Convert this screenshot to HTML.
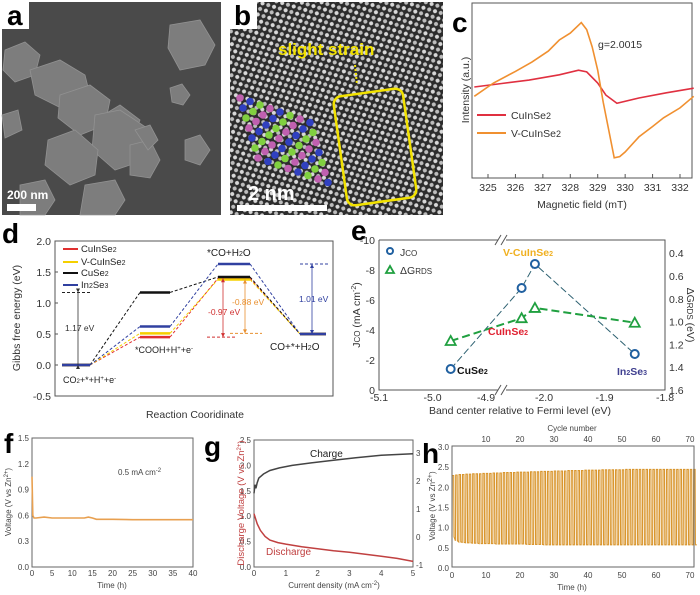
<!DOCTYPE html>
<html><head><meta charset="utf-8"><style>
html,body{margin:0;padding:0;background:#fff;width:700px;height:595px;overflow:hidden}
svg{display:block;font-family:"Liberation Sans",Arial,sans-serif}
.t{font-size:10.5px;fill:#333}
.s{font-size:8px;fill:#444}
.lab{font-size:28px;font-weight:bold;fill:#000}
</style></head><body>
<svg id="fig" width="700" height="595" viewBox="0 0 700 595">
<defs>
<pattern id="lat" width="9" height="8" patternUnits="userSpaceOnUse" patternTransform="rotate(-25)">
<rect width="9" height="8" fill="#2c2c2c"/>
<circle cx="2.5" cy="2" r="2" fill="#d8d8d8"/><circle cx="7" cy="6" r="2" fill="#bdbdbd"/>
</pattern>
</defs>
<!-- panel a -->
<g>
<rect x="2" y="2" width="219" height="213" fill="#4a4a4a"/>
<g fill="#838383" stroke="#9a9a9a" stroke-width="0.8" opacity="0.9">
<polygon points="170,25 200,20 215,45 205,65 180,70 168,48"/>
<polygon points="5,50 25,42 40,55 35,75 15,82 3,70"/>
<polygon points="30,70 60,60 85,75 90,95 65,110 35,95"/>
<polygon points="60,95 90,85 110,100 105,125 80,135 58,118"/>
<polygon points="170,88 182,84 190,95 183,105 172,102"/>
<polygon points="95,120 120,105 140,120 130,145 105,150"/>
<polygon points="95,115 120,110 150,130 145,160 115,170 92,150"/>
<polygon points="48,140 75,130 98,150 95,175 70,185 45,165"/>
<polygon points="130,145 150,140 160,160 150,178 130,175"/>
<polygon points="135,130 150,125 158,140 148,150"/>
<polygon points="185,140 200,135 210,150 200,165 185,160"/>
<polygon points="20,185 45,180 55,200 45,215 20,215"/>
<polygon points="85,185 115,180 125,200 115,215 80,215"/>
<polygon points="2,115 18,110 22,130 5,138"/>
</g>
<rect x="2" y="2" width="27" height="27" fill="#fff"/>
<text x="7" y="25" class="lab">a</text>
<text x="7" y="199" fill="#fff" font-size="12" font-weight="bold">200 nm</text>
<rect x="7" y="204" width="29" height="7" fill="#fff"/>
</g>
<!-- panel b -->
<g>
<rect x="230" y="2" width="213" height="213" fill="url(#lat)"/>
<rect x="230" y="2" width="27" height="27" fill="#fff"/>
<text x="234" y="25" class="lab">b</text>
<g id="atoms"></g>
<text x="278" y="55" fill="#f2e200" font-size="17" font-weight="bold">slight strain</text>
<line x1="355" y1="65" x2="357" y2="85" stroke="#f2e200" stroke-width="2" stroke-dasharray="2,2"/>
<rect x="340" y="92" width="70" height="110" rx="8" fill="none" stroke="#f2e200" stroke-width="2.5" transform="rotate(-8 375 147)"/>
<text x="248" y="200" fill="#fff" font-size="20" font-weight="bold">2 nm</text>
<rect x="237" y="205" width="90" height="6" fill="#fff"/>
</g>
<!-- panel c -->
<g>
<text x="452" y="32" class="lab" font-size="24">c</text>
<rect x="472" y="3" width="220" height="175" fill="none" stroke="#555"/>
<g id="cTicks"></g><g id="cLines"></g>
<text transform="translate(469,90) rotate(-90)" text-anchor="middle" class="t" font-size="11">Intensity (a.u.)</text>
<text x="582" y="208" text-anchor="middle" class="t" font-size="12">Magnetic field (mT)</text>
<text x="598" y="48" class="t" font-size="12">g=2.0015</text>
<line x1="477" y1="115" x2="506" y2="115" stroke="#e03040" stroke-width="2"/>
<text x="511" y="119" class="t" font-size="12">CuInSe<tspan font-size="9">2</tspan></text>
<line x1="477" y1="133" x2="506" y2="133" stroke="#f09030" stroke-width="2"/>
<text x="511" y="137" class="t" font-size="12">V-CuInSe<tspan font-size="9">2</tspan></text>
</g>
<!-- panel d -->
<g>
<text x="2" y="243" class="lab" font-size="26">d</text>
<rect x="55" y="241" width="278" height="155" fill="none" stroke="#555"/>
<g id="dTicks"></g><g id="dLines"></g>
<text transform="translate(20,318) rotate(-90)" text-anchor="middle" class="t" font-size="12.5">Gibbs free energy (eV)</text>
<text x="195" y="418" text-anchor="middle" class="t" font-size="13">Reaction Cooridinate</text>
<g font-size="9.5" fill="#222">
<line x1="63" y1="249" x2="78" y2="249" stroke="#e03030" stroke-width="2"/><text x="81" y="252">CuInSe<tspan font-size="7">2</tspan></text>
<line x1="63" y1="262" x2="78" y2="262" stroke="#f5d000" stroke-width="2"/><text x="81" y="265">V-CuInSe<tspan font-size="7">2</tspan></text>
<line x1="63" y1="273" x2="78" y2="273" stroke="#111" stroke-width="2"/><text x="81" y="276">CuSe<tspan font-size="7">2</tspan></text>
<line x1="63" y1="285" x2="78" y2="285" stroke="#3040a0" stroke-width="2"/><text x="81" y="288">In<tspan font-size="7">2</tspan>Se<tspan font-size="7">3</tspan></text>
</g>
<g font-size="9" fill="#222">
<text x="63" y="383">CO<tspan font-size="6">2</tspan>+*+H<tspan font-size="6" dy="-3">+</tspan><tspan dy="3">+e</tspan><tspan font-size="6" dy="-3">-</tspan></text>
<text x="135" y="353">*COOH+H<tspan font-size="6" dy="-3">+</tspan><tspan dy="3">+e</tspan><tspan font-size="6" dy="-3">-</tspan></text>
<text x="207" y="256" font-size="10">*CO+H<tspan font-size="7">2</tspan>O</text>
<text x="270" y="350" font-size="10">CO+*+H<tspan font-size="7">2</tspan>O</text>
<text x="65" y="331" font-size="8.5" fill="#333">1.17 eV</text>
<text x="208" y="315" font-size="8.5" fill="#d03030">-0.97 eV</text>
<text x="232" y="305" font-size="8.5" fill="#e89030">-0.88 eV</text>
<text x="299" y="302" font-size="8.5" fill="#3040a0">1.01 eV</text>
</g>
</g>
<!-- panel e -->
<g>
<text x="351" y="240" class="lab" font-size="26">e</text>
<polyline points="379,240 498,240" fill="none" stroke="#555"/><polyline points="506,240 665,240 665,390 506,390" fill="none" stroke="#555"/><polyline points="498,390 379,390 379,240" fill="none" stroke="#555"/>
<g stroke="#555"><line x1="495" y1="245" x2="501" y2="235"/><line x1="501" y1="245" x2="507" y2="235"/><line x1="495" y1="395" x2="501" y2="385"/><line x1="501" y1="395" x2="507" y2="385"/></g>
<g id="eTicks"></g><g id="eLines"></g>
<text transform="translate(360,315) rotate(-90)" text-anchor="middle" class="t" font-size="11.5">J<tspan font-size="8">CO</tspan> (mA cm<tspan font-size="7" dy="-4">-2</tspan><tspan dy="4">)</tspan></text>
<text transform="translate(687,315) rotate(90)" text-anchor="middle" class="t" font-size="11.5">ΔG<tspan font-size="8">RDS</tspan> (eV)</text>
<text x="520" y="414" text-anchor="middle" class="t" font-size="12">Band center relative to Fermi level (eV)</text>
<circle cx="390" cy="251" r="3" fill="none" stroke="#2060a0" stroke-width="2"/><text x="400" y="256" class="t" font-size="12">J<tspan font-size="8">CO</tspan></text>
<polygon points="386,273 390,266 394,273" fill="none" stroke="#20a040" stroke-width="1.8"/><text x="400" y="274" class="t" font-size="12">ΔG<tspan font-size="8">RDS</tspan></text>
<text x="503" y="256" font-size="10.5" font-weight="bold" fill="#f0b020">V-CuInSe<tspan font-size="7">2</tspan></text>
<text x="488" y="335" font-size="10.5" font-weight="bold" fill="#e02030">CuInSe<tspan font-size="7">2</tspan></text>
<text x="457" y="374" font-size="10.5" font-weight="bold" fill="#111">CuSe<tspan font-size="7">2</tspan></text>
<text x="617" y="375" font-size="10.5" font-weight="bold" fill="#404090">In<tspan font-size="7">2</tspan>Se<tspan font-size="7">3</tspan></text>
</g>
<!-- panel f -->
<g>
<text x="4" y="453" class="lab" font-size="26">f</text>
<rect x="32" y="438" width="161" height="129" fill="none" stroke="#666"/>
<g id="fTicks"></g><g id="fLines"></g>
<text transform="translate(11,502) rotate(-90)" text-anchor="middle" class="s" font-size="9">Voltage (V vs Zn<tspan font-size="6" dy="-3">2+</tspan><tspan dy="3">)</tspan></text>
<text x="112" y="588" text-anchor="middle" class="s" font-size="10">Time (h)</text>
<text x="118" y="475" class="s" font-size="9" fill="#222">0.5 mA cm<tspan font-size="6" dy="-3">-2</tspan></text>
</g>
<!-- panel g -->
<g>
<text x="204" y="456" class="lab" font-size="32">g</text>
<rect x="254" y="440" width="159" height="127" fill="none" stroke="#666"/>
<g id="gTicks"></g><g id="gLines"></g>
<text transform="translate(244,503) rotate(-90)" text-anchor="middle" font-size="9.5" fill="#c04040">Discharge Voltage (V vs Zn<tspan font-size="6" dy="-3">2+</tspan><tspan dy="3">)</tspan></text>
<text x="334" y="588" text-anchor="middle" class="s" font-size="10">Current density (mA cm<tspan font-size="6" dy="-3">-2</tspan><tspan dy="3">)</tspan></text>
<text x="310" y="457" font-size="10" fill="#222">Charge</text>
<text x="266" y="555" font-size="10" fill="#c04040">Discharge</text>
</g>
<!-- panel h -->
<g>
<text x="422" y="463" class="lab" font-size="32">h</text>
<g id="hLines"></g>
<rect x="452" y="446" width="242" height="121" fill="none" stroke="#666"/>
<g id="hTicks"></g>
<text transform="translate(435,506) rotate(-90)" text-anchor="middle" class="s" font-size="11">Voltage (V vs Zn<tspan font-size="7" dy="-3">2+</tspan><tspan dy="3">)</tspan></text>
<text x="572" y="590" text-anchor="middle" class="s" font-size="11">Time (h)</text>
<text x="572" y="431" text-anchor="middle" class="s" font-size="10">Cycle number</text>
</g>
</svg>
<script>
// ---- data arrays ----
const cFieldOrange=[324.5,325.2,326.0,326.6,327.2,327.6,328.0,328.4,328.6,328.8,329.0,329.2,329.4,329.6,329.8,330.0,330.5,331.0,331.4,332.0,332.5];
const cIntOrange=[-0.1,0.13,0.33,0.49,0.68,0.87,0.99,1.17,1.05,0.75,0.35,-0.2,-0.68,-1.16,-1.14,-1.06,-0.8,-0.62,-0.47,-0.3,-0.1];
const cFieldRed=[324.5,325.5,326.5,327.6,328.3,328.6,329.0,329.3,329.7,330.5,331.5,332.5];
const cIntRed=[0.06,0.12,0.18,0.27,0.35,0.32,0.13,-0.08,-0.22,-0.13,-0.04,0.04];
const cTicks=[325,326,327,328,329,330,331,332];
const dCuInSe2=[0,0.45,1.40,0.5];
const dVCuInSe2=[0,0.51,1.38,0.5];
const dCuSe2=[0,1.17,1.42,0.5];
const dIn2Se3=[0,0.62,1.63,0.5];
const dTicks=[2.0,1.5,1.0,0.5,0.0,-0.5];
const eBand=[-4.966,-2.037,-2.015,-1.85];
const eJco=[-1.4,-6.8,-8.4,-2.4];
const eDG=[1.17,0.97,0.88,1.01];
const eLeftTicks=[0,-2,-4,-6,-8,-10];
const eRightTicks=[0.4,0.6,0.8,1.0,1.2,1.4,1.6];
const eXTicks=[-5.1,-5.0,-4.9,-2.0,-1.9,-1.8];
const fTime=[0,0.2,0.5,1,3,5,10,13,14,15,16,20,25,30,35,40];
const fVolt=[1.05,0.6,0.57,0.57,0.58,0.57,0.57,0.57,0.58,0.57,0.555,0.555,0.55,0.55,0.55,0.55];
const fYTicks=[0,0.3,0.6,0.9,1.2,1.5];
const fXTicks=[0,5,10,15,20,25,30,35,40];
const gChargeI=[0,0.03,0.06,0.1,0.15,0.3,0.5,0.8,1.2,1.8,2.5,3.2,4,5];
const gChargeV=[1.45,1.62,1.55,1.66,1.75,1.83,1.9,1.95,2.0,2.05,2.1,2.15,2.2,2.23];
const gDisI=[0,0.1,0.2,0.35,0.5,0.75,1,1.5,2,2.5,3,3.5,4,4.5,5];
const gDisV=[1.05,0.85,0.72,0.6,0.53,0.48,0.45,0.40,0.36,0.32,0.29,0.25,0.21,0.17,0.11];
const gYTicks=[0,0.5,1.0,1.5,2.0,2.5];
const gRightTicks=[-1,0,1,2,3];
const gXTicks=[0,1,2,3,4,5];
const hCharge=[2.27,2.28,2.29,2.29,2.30,2.30,2.31,2.31,2.31,2.32,2.32,2.32,2.33,2.33,2.33,2.34,2.34,2.34,2.34,2.35,2.35,2.35,2.35,2.36,2.36,2.36,2.37,2.37,2.37,2.37,2.38,2.38,2.38,2.38,2.39,2.39,2.39,2.39,2.39,2.40,2.40,2.40,2.40,2.40,2.41,2.41,2.41,2.41,2.41,2.41,2.41,2.42,2.42,2.42,2.42,2.42,2.42,2.42,2.42,2.42,2.42,2.42,2.42,2.42,2.42,2.42,2.42,2.42,2.42,2.42,2.42,2.42];
const hDischarge=[0.75,0.65,0.62,0.61,0.60,0.60,0.59,0.59,0.58,0.58,0.58,0.58,0.58,0.57,0.57,0.57,0.57,0.57,0.57,0.57,0.57,0.57,0.56,0.56,0.56,0.56,0.56,0.55,0.55,0.55,0.55,0.55,0.55,0.55,0.55,0.55,0.55,0.55,0.55,0.55,0.55,0.55,0.55,0.55,0.55,0.55,0.55,0.55,0.55,0.55,0.55,0.55,0.55,0.55,0.55,0.55,0.55,0.55,0.55,0.55,0.55,0.55,0.55,0.55,0.55,0.55,0.55,0.55,0.55,0.55,0.55,0.55];
const hYTicks=[0,0.5,1.0,1.5,2.0,2.5,3.0];
const hXTicks=[0,10,20,30,40,50,60,70];
const hCycleTicks=[10,20,30,40,50,60,70];

// ---- helpers ----
const NS='http://www.w3.org/2000/svg';
function mk(parent,tag,attrs){const e=document.createElementNS(NS,tag);for(const k in attrs)e.setAttribute(k,attrs[k]);document.getElementById(parent).appendChild(e);return e;}
function pts(xs,ys,fx,fy){return xs.map((x,i)=>fx(x).toFixed(1)+','+fy(ys[i]).toFixed(1)).join(' ');}

// ---- axis functions ----
const xc=v=>488+(v-325)*27.43, yc=v=>90.5-v*58;
const yd=v=>241+(2-v)*62;
const xe=v=>v<-4.5?379+(v+5.1)*535:544+(v+2.0)*605, ye=v=>390+v*15, yr=v=>390-(1.6-v)*114;
const xf=v=>32+v*4.025, yf=v=>567-v*86;
const xg=v=>254+v*31.8, yg=v=>567-v*50.8, ygr=v=>537-v*28;
const xh=v=>452+v*3.4, yh=v=>567-v*40.33;

// atoms in panel b
const atomCols=['#c060b0','#3040c0','#80d040'];
for(let r=0;r<7;r++)for(let c=0;c<8;c++){const a=mk('atoms','circle',{cx:240+c*10+r*3,cy:110+r*10+c*3.5-12,r:3.8,fill:atomCols[(r+c)%3]});

}

// panel c
cTicks.forEach(v=>{const t=mk('cTicks','text',{x:xc(v),y:191,'text-anchor':'middle',class:'t'});t.textContent=v;


mk('cTicks','line',{x1:xc(v),y1:178,x2:xc(v),y2:174,stroke:'#555'});});
let l=mk('cLines','polyline',{points:pts(cFieldRed,cIntRed,xc,yc),fill:'none',stroke:'#e03040','stroke-width':1.6});


l=mk('cLines','polyline',{points:pts(cFieldOrange,cIntOrange,xc,yc),fill:'none',stroke:'#f09030','stroke-width':1.6});



// panel d
dTicks.forEach(v=>{const t=mk('dTicks','text',{x:51,y:yd(v)+4,'text-anchor':'end',class:'t',fill:'#333'});t.textContent=v.toFixed(1);


mk('dTicks','line',{x1:55,y1:yd(v),x2:58,y2:yd(v),stroke:'#555'});});
const levelX=[[62,90],[140,170],[218,250],[300,326]];
const dSeries=[[dCuInSe2,'#e03030','cuinse2'],[dVCuInSe2,'#f5d000','v-cuinse2'],[dCuSe2,'#111','cuse2'],[dIn2Se3,'#3040a0','in2se3']];
dSeries.forEach(([vals,col,nm])=>{for(let i=0;i<3;i++){const c=mk('dLines','line',{x1:levelX[i][1],y1:yd(vals[i]),x2:levelX[i+1][0],y2:yd(vals[i+1]),stroke:col,'stroke-width':1,'stroke-dasharray':'3,2'});

}});
dSeries.forEach(([vals,col,nm])=>{vals.forEach((v,i)=>{const b=mk('dLines','line',{x1:levelX[i][0],y1:yd(v),x2:levelX[i][1],y2:yd(v),stroke:col,'stroke-width':2.5});

});});
function arrow(x,v1,v2,col){const y1=yd(v1),y2=yd(v2);const a=mk('dLines','line',{x1:x,y1:y1,x2:x,y2:y2,stroke:col,'stroke-width':0.8});


mk('dLines','polygon',{points:`${x-2},${y1-4} ${x+2},${y1-4} ${x},${y1}`,fill:col});mk('dLines','polygon',{points:`${x-2},${y2+4} ${x+2},${y2+4} ${x},${y2}`,fill:col});}
mk('dLines','line',{x1:62,y1:yd(dCuSe2[1]),x2:90,y2:yd(dCuSe2[1]),stroke:'#222','stroke-dasharray':'3,2'});
arrow(78,dCuSe2[1],0,'#333');
mk('dLines','line',{x1:207,y1:yd(dCuInSe2[1]),x2:237,y2:yd(dCuInSe2[1]),stroke:'#d03030','stroke-dasharray':'3,2'});
arrow(223,dCuInSe2[1],dCuInSe2[2],'#d03030');
mk('dLines','line',{x1:230,y1:yd(dVCuInSe2[1]),x2:262,y2:yd(dVCuInSe2[1]),stroke:'#e89030','stroke-dasharray':'3,2'});
arrow(245,dVCuInSe2[1],dVCuInSe2[2],'#e89030');
mk('dLines','line',{x1:300,y1:yd(dIn2Se3[2]),x2:328,y2:yd(dIn2Se3[2]),stroke:'#3040a0','stroke-dasharray':'3,2'});
arrow(312,dIn2Se3[3],dIn2Se3[2],'#3040a0');

// panel e
eLeftTicks.forEach(v=>{const t=mk('eTicks','text',{x:375,y:ye(v)+4,'text-anchor':'end',class:'t'});t.textContent=v;

});
eRightTicks.forEach(v=>{const t=mk('eTicks','text',{x:669,y:yr(v)+4,class:'t'});t.textContent=v.toFixed(1);

});
eXTicks.forEach(v=>{const t=mk('eTicks','text',{x:xe(v),y:401,'text-anchor':'middle',class:'t'});t.textContent=v.toFixed(1);

});
l=mk('eLines','polyline',{points:pts(eBand,eJco,xe,ye),fill:'none',stroke:'#2c6070','stroke-width':1,'stroke-dasharray':'7,3'});


l=mk('eLines','polyline',{points:pts(eBand,eDG,xe,yr),fill:'none',stroke:'#20a040','stroke-width':2,'stroke-dasharray':'8,4'});


eBand.forEach((b,i)=>{const c=mk('eLines','circle',{cx:xe(b),cy:ye(eJco[i]),r:4,fill:'#fff',stroke:'#2060a0','stroke-width':2});


const x=xe(b),y=yr(eDG[i]);const p=mk('eLines','polygon',{points:`${x-5},${y+4} ${x},${y-5} ${x+5},${y+4}`,fill:'#fff',stroke:'#20a040','stroke-width':1.8});

});

// panel f
fYTicks.forEach(v=>{const t=mk('fTicks','text',{x:29,y:yf(v)+3,'text-anchor':'end',class:'s'});t.textContent=v.toFixed(1);

});
fXTicks.forEach(v=>{const t=mk('fTicks','text',{x:xf(v),y:576,'text-anchor':'middle',class:'s'});t.textContent=v;

});
l=mk('fLines','polyline',{points:pts(fTime,fVolt,xf,yf),fill:'none',stroke:'#e8a050','stroke-width':1.6});



// panel g
gYTicks.forEach(v=>{const t=mk('gTicks','text',{x:251,y:yg(v)+3,'text-anchor':'end',class:'s'});t.textContent=v.toFixed(1);

});
gRightTicks.forEach(v=>{const t=mk('gTicks','text',{x:416,y:ygr(v)+3,class:'s'});t.textContent=v;

});
gXTicks.forEach(v=>{const t=mk('gTicks','text',{x:xg(v),y:576,'text-anchor':'middle',class:'s'});t.textContent=v;

});
l=mk('gLines','polyline',{points:pts(gChargeI,gChargeV,xg,yg),fill:'none',stroke:'#444','stroke-width':1.5});


l=mk('gLines','polyline',{points:pts(gDisI,gDisV,xg,yg),fill:'none',stroke:'#c04040','stroke-width':1.5});



// panel h
hYTicks.forEach(v=>{const t=mk('hTicks','text',{x:449,y:yh(v)+4,'text-anchor':'end',class:'s',"font-size":10});t.textContent=v.toFixed(1);

});
hXTicks.forEach(v=>{const t=mk('hTicks','text',{x:xh(v),y:578,'text-anchor':'middle',class:'s',"font-size":10});t.textContent=v;

});
hCycleTicks.forEach(v=>{const t=mk('hTicks','text',{x:xh(v),y:442,'text-anchor':'middle',class:'s',"font-size":9});t.textContent=v;

});
let d='M'+xh(0).toFixed(1)+','+yh(hDischarge[0]).toFixed(1);
hCharge.forEach((c,i)=>{d+=' L'+xh(i+0.1).toFixed(1)+','+yh(c).toFixed(1)+' L'+xh(i+0.5).toFixed(1)+','+yh(c).toFixed(1)+' L'+xh(i+0.6).toFixed(1)+','+yh(hDischarge[i]).toFixed(1)+' L'+xh(i+1).toFixed(1)+','+yh(hDischarge[Math.min(i+1,hDischarge.length-1)]).toFixed(1);});
l=mk('hLines','path',{d:d,fill:'none',stroke:'#d9962e','stroke-width':1.1});


</script>
</body></html>
